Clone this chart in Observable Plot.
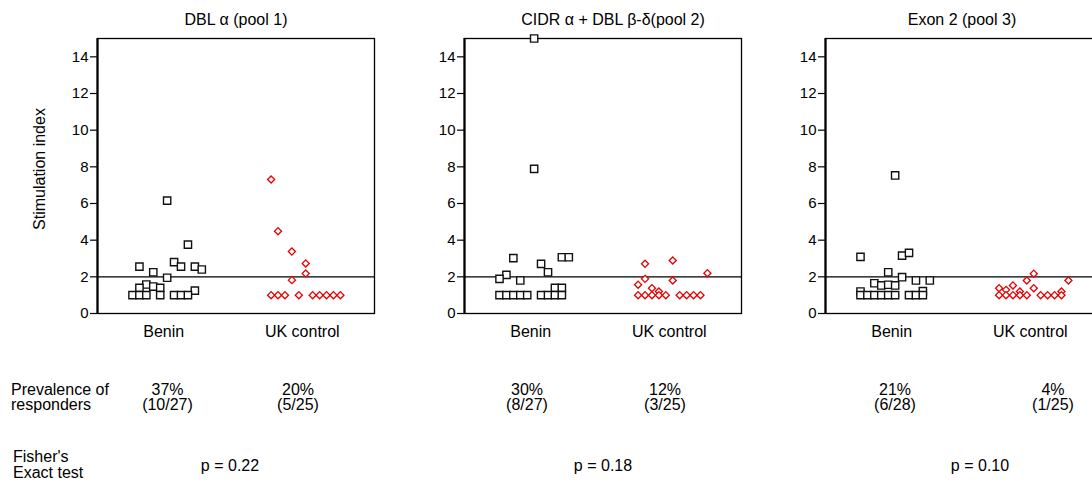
<!DOCTYPE html>
<html><head><meta charset="utf-8">
<script src="https://cdn.jsdelivr.net/npm/d3@7"></script>
<script src="https://cdn.jsdelivr.net/npm/@observablehq/plot@0.6"></script>
<style>
body{margin:0;background:#fff;overflow:hidden;font-family:"Liberation Sans",Arial,sans-serif;}
#root{position:relative;width:1092px;height:482px;overflow:hidden;background:#fff;}
.panel{position:absolute;top:0;}
#overlay{position:absolute;left:0;top:0;pointer-events:none;}
</style></head><body><div id="root"></div>
<script>
// ---------- data ----------
const groups = ["Benin", "UK control"];
const categoryTicks = [4.5, 24.5];           // slot position of the category labels
const yTicks = [0, 2, 4, 6, 8, 10, 12, 14];
const threshold = [2];
const poolTitles = ["DBL α (pool 1)", "CIDR α + DBL β-δ(pool 2)", "Exon 2 (pool 3)"];

// pool 1 (slot = horizontal column of the dot plot)
const pool1BeninSlot  = [5, 8, 1, 3, 6, 7, 9, 10, 5, 2, 3, 1, 4, 9, 0, 1, 2, 4, 6, 7, 8];
const pool1BeninValue = [6.16, 3.76, 2.56, 2.25, 2.80, 2.56, 2.56, 2.40, 1.95, 1.58, 1.47, 1.40, 1.40, 1.25, 1, 1, 1, 1, 1, 1, 1];
const pool1UKSlot  = [20, 21, 23, 25, 25, 23, 20, 21, 22, 24, 26, 27, 28, 29, 30];
const pool1UKValue = [7.31, 4.49, 3.38, 2.73, 2.18, 1.82, 1, 1, 1, 1, 1, 1, 1, 1, 1];

// pool 2
const pool2BeninSlot  = [5, 5, 2, 9, 10, 6, 7, 1, 0, 3, 8, 9, 0, 1, 2, 3, 4, 6, 7, 8, 9];
const pool2BeninValue = [15, 7.89, 3.02, 3.07, 3.07, 2.71, 2.25, 2.11, 1.89, 1.80, 1.40, 1.40, 1, 1, 1, 1, 1, 1, 1, 1, 1];
const pool2UKSlot  = [21, 25, 30, 21, 25, 20, 22, 23, 20, 21, 22, 23, 24, 26, 27, 28, 29];
const pool2UKValue = [2.71, 2.89, 2.20, 1.89, 1.80, 1.57, 1.38, 1.20, 1, 1, 1, 1, 1, 1, 1, 1, 1];

// pool 3
const pool3BeninSlot  = [5, 0, 6, 7, 4, 6, 8, 10, 2, 3, 4, 5, 0, 9, 0, 1, 2, 3, 4, 5, 7, 8, 9];
const pool3BeninValue = [7.53, 3.09, 3.16, 3.31, 2.25, 1.98, 1.80, 1.80, 1.65, 1.53, 1.57, 1.53, 1.20, 1.22, 1, 1, 1, 1, 1, 1, 1, 1, 1];
const pool3UKSlot  = [25, 24, 30, 22, 20, 21, 25, 23, 29, 20, 21, 22, 23, 24, 26, 27, 28, 29];
const pool3UKValue = [2.17, 1.80, 1.80, 1.53, 1.38, 1.29, 1.38, 1.20, 1.20, 1, 1, 1, 1, 1, 1, 1, 1, 1];

const prevalence = [["37%", "20%"], ["30%", "12%"], ["21%", "4%"]];
const fractions  = [["(10/27)", "(5/25)"], ["(8/27)", "(3/25)"], ["(6/28)", "(1/25)"]];
const pValues    = ["p = 0.22", "p = 0.18", "p = 0.10"];

// ---------- build ----------
const FONT = '"Liberation Sans", Arial, sans-serif';
const zip = (s, v) => s.map((d, i) => ({slot: d, value: v[i]}));
const pools = [
  {benin: zip(pool1BeninSlot, pool1BeninValue), uk: zip(pool1UKSlot, pool1UKValue)},
  {benin: zip(pool2BeninSlot, pool2BeninValue), uk: zip(pool2UKSlot, pool2UKValue)},
  {benin: zip(pool3BeninSlot, pool3BeninValue), uk: zip(pool3UKSlot, pool3UKValue)}
];

const root = document.getElementById("root");
const panelLefts = [97, 464, 825];
const panelW = 277;
const ML = 45, MR = 3;
const xDomain = [-5.05, 34.92];

pools.forEach((p, i) => {
  const chart = Plot.plot({
    width: ML + panelW + MR,
    height: 345,
    marginLeft: ML, marginRight: MR, marginTop: 38, marginBottom: 32,
    x: {domain: xDomain, axis: null},
    y: {domain: [0, 15], axis: null},
    style: {fontFamily: FONT, color: "#000", background: "transparent", overflow: "visible"},
    marks: [
      Plot.axisY(yTicks, {tickSize: 7, tickPadding: 2, fontSize: 15, label: null, strokeWidth: 1.2}),
      Plot.axisX(categoryTicks, {tickSize: 0, tickPadding: 12, fontSize: 16, label: null,
        tickFormat: d => groups[categoryTicks.indexOf(d)]}),
      Plot.ruleY(threshold, {stroke: "#000", strokeWidth: 1.3}),
      Plot.frame({stroke: "#000", strokeWidth: 1.3}),
      Plot.ruleX([xDomain[0]], {stroke: "#000", strokeWidth: 2.2}),
      Plot.dot(p.benin, {x: "slot", y: "value", symbol: "square", r: 4.1,
        stroke: "#111", fill: "white", strokeWidth: 1.4}),
      Plot.dot(p.uk, {x: "slot", y: "value", symbol: "diamond2", r: 3.2,
        stroke: "#e60000", fill: "white", strokeWidth: 1.3})
    ]
  });
  chart.classList.add("panel");
  chart.style.left = (panelLefts[i] - ML) + "px";
  root.appendChild(chart);
});

// ---------- text annotations ----------
const svg = d3.select(root).append("svg").attr("id", "overlay")
  .attr("width", 1092).attr("height", 482)
  .style("font-family", FONT).style("font-size", "16px");

const titleX = [236, 613, 962];
poolTitles.forEach((t, i) => svg.append("text").attr("x", titleX[i]).attr("y", 25)
  .attr("text-anchor", "middle").text(t));

svg.append("text").attr("transform", "translate(45,169) rotate(-90)")
  .attr("text-anchor", "middle").text("Stimulation index");

svg.append("text").attr("x", 11).attr("y", 394.5).text("Prevalence of");
svg.append("text").attr("x", 11).attr("y", 410).text("responders");
svg.append("text").attr("x", 13).attr("y", 462).text("Fisher's");
svg.append("text").attr("x", 13).attr("y", 478).text("Exact test");

const prevX = [[167.5, 298], [527, 665], [895, 1053]];
prevalence.forEach((row, i) => row.forEach((t, j) => {
  svg.append("text").attr("x", prevX[i][j]).attr("y", 395).attr("text-anchor", "middle").text(t);
  svg.append("text").attr("x", prevX[i][j]).attr("y", 410).attr("text-anchor", "middle").text(fractions[i][j]);
}));
const pX = [230, 603, 980];
pValues.forEach((t, i) => svg.append("text").attr("x", pX[i]).attr("y", 471)
  .attr("text-anchor", "middle").text(t));
</script></body></html>
